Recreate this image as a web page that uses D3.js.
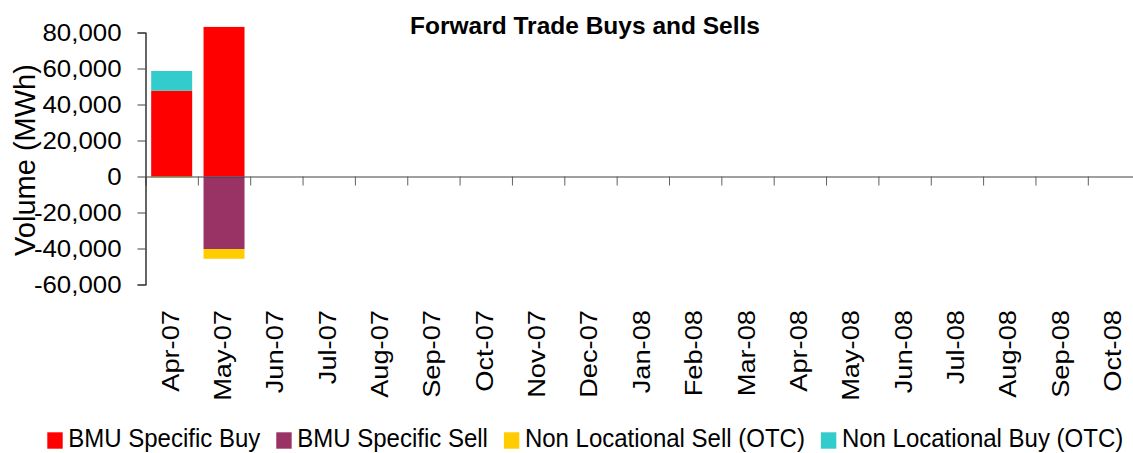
<!DOCTYPE html>
<html>
<head>
<meta charset="utf-8">
<script src="https://cdn.jsdelivr.net/npm/d3@7"></script>
<style>
  html, body { margin: 0; padding: 0; background: #fff; }
  svg { display: block; font-family: "Liberation Sans", Arial, sans-serif; }
</style>
</head>
<body>
<svg id="chart" width="1133" height="453"></svg>
<script>
// ---- data ----
const months = ["Apr-07","May-07","Jun-07","Jul-07","Aug-07","Sep-07","Oct-07","Nov-07","Dec-07",
                "Jan-08","Feb-08","Mar-08","Apr-08","May-08","Jun-08","Jul-08","Aug-08","Sep-08","Oct-08"];
const bmuBuy     = [47700, 83100, 0,0,0,0,0,0,0,0,0,0,0,0,0,0,0,0,0];
const bmuSell    = [0, -40300, 0,0,0,0,0,0,0,0,0,0,0,0,0,0,0,0,0];
const nlSellOTC  = [-400, -5400, 0,0,0,0,0,0,0,0,0,0,0,0,0,0,0,0,0];
const nlBuyOTC   = [10900, 0, 0,0,0,0,0,0,0,0,0,0,0,0,0,0,0,0,0];
const seriesNames = ["BMU Specific Buy","BMU Specific Sell","Non Locational Sell (OTC)","Non Locational Buy (OTC)"];
const seriesColors = ["#FF0000","#993366","#FFCC00","#33CCCC"];
const yTicks = [-60000,-40000,-20000,0,20000,40000,60000,80000];
const title = "Forward Trade Buys and Sells";
const yTitle = "Volume (MWh)";

// ---- build table ----
const keys = ["buy","sell","nlSell","nlBuy"];
const table = months.map((m,i) => ({month:m, buy:bmuBuy[i], sell:bmuSell[i], nlSell:nlSellOTC[i], nlBuy:nlBuyOTC[i]}));
const stacked = d3.stack().keys(keys).offset(d3.stackOffsetDiverging)(table);

const svg = d3.select("#chart");
const left = 145.5, right = 145.5 + 52.35 * months.length;

const x = d3.scaleBand().domain(months).range([left, right]).paddingInner(0.217).paddingOuter(0.1085);
const xIdx = d3.scaleLinear().domain([0, months.length]).range([left, right]);
const y = d3.scaleLinear().domain([-60000, 80000]).range([284.5, 32.5]);

// bars
svg.append("g").selectAll("g").data(stacked).join("g")
  .attr("fill", (d,i) => seriesColors[i])
  .selectAll("rect").data(d => d).join("rect")
  .attr("x", d => x(d.data.month))
  .attr("width", x.bandwidth())
  .attr("y", d => y(Math.max(d[0], d[1])))
  .attr("height", d => Math.abs(y(d[0]) - y(d[1])));

// y axis
const fmt = d3.format(",");
const yAxis = svg.append("g").attr("transform", `translate(${left},0)`)
  .call(d3.axisLeft(y).tickValues(yTicks).tickSize(8).tickPadding(12)
        .tickFormat(d => fmt(d).replace("\u2212", "-")));
yAxis.select(".domain").attr("stroke", "#000").attr("stroke-width", 1.2);
yAxis.selectAll(".tick line").attr("stroke", "#404040");
yAxis.selectAll(".tick text")
  .attr("font-size", 23.5).attr("fill", "#000")
  .attr("font-family", "Liberation Sans, Arial, sans-serif")
  .attr("x", -24 / 1.1)
  .attr("transform", "scale(1.1,1)");

// x axis (category boundary ticks on the zero line)
const xAxis = svg.append("g").attr("transform", `translate(0,${y(0)})`)
  .call(d3.axisBottom(xIdx).tickValues(d3.range(1, months.length + 1)).tickSize(9).tickFormat(""));
xAxis.select(".domain").attr("stroke", "#404040").attr("stroke-width", 1.2);
xAxis.selectAll(".tick line").attr("stroke", "#606060");

// x labels
svg.append("g").selectAll("text").data(months).join("text")
  .attr("transform", d => `translate(${x(d) + x.bandwidth()/2 + 7},310) rotate(-90) scale(1.16,1)`)
  .attr("text-anchor", "end")
  .attr("font-size", 23.5)
  .attr("fill", "#000")
  .text(d => d);

// y title
svg.append("text")
  .attr("transform", "translate(35,160) rotate(-90)")
  .attr("text-anchor", "middle")
  .attr("font-size", 29)
  .attr("fill", "#000")
  .text(yTitle);

// title
svg.append("text")
  .attr("x", 585).attr("y", 34)
  .attr("text-anchor", "middle")
  .attr("font-size", 24.5).attr("font-weight", "bold")
  .attr("fill", "#000")
  .text(title);

// legend
const lg = svg.append("g");
let lx = 47.3;
seriesNames.forEach((name, i) => {
  lg.append("rect").attr("x", lx).attr("y", 432.3).attr("width", 15.4).attr("height", 16.4).attr("fill", seriesColors[i]);
  const t = lg.append("text")
    .attr("transform", `translate(${lx + 21},447.3) scale(1,1.06)`)
    .attr("font-size", 24).attr("fill", "#000")
    .text(name);
  lx += 21 + t.node().getComputedTextLength() + 16;
});
</script>
</body>
</html>
